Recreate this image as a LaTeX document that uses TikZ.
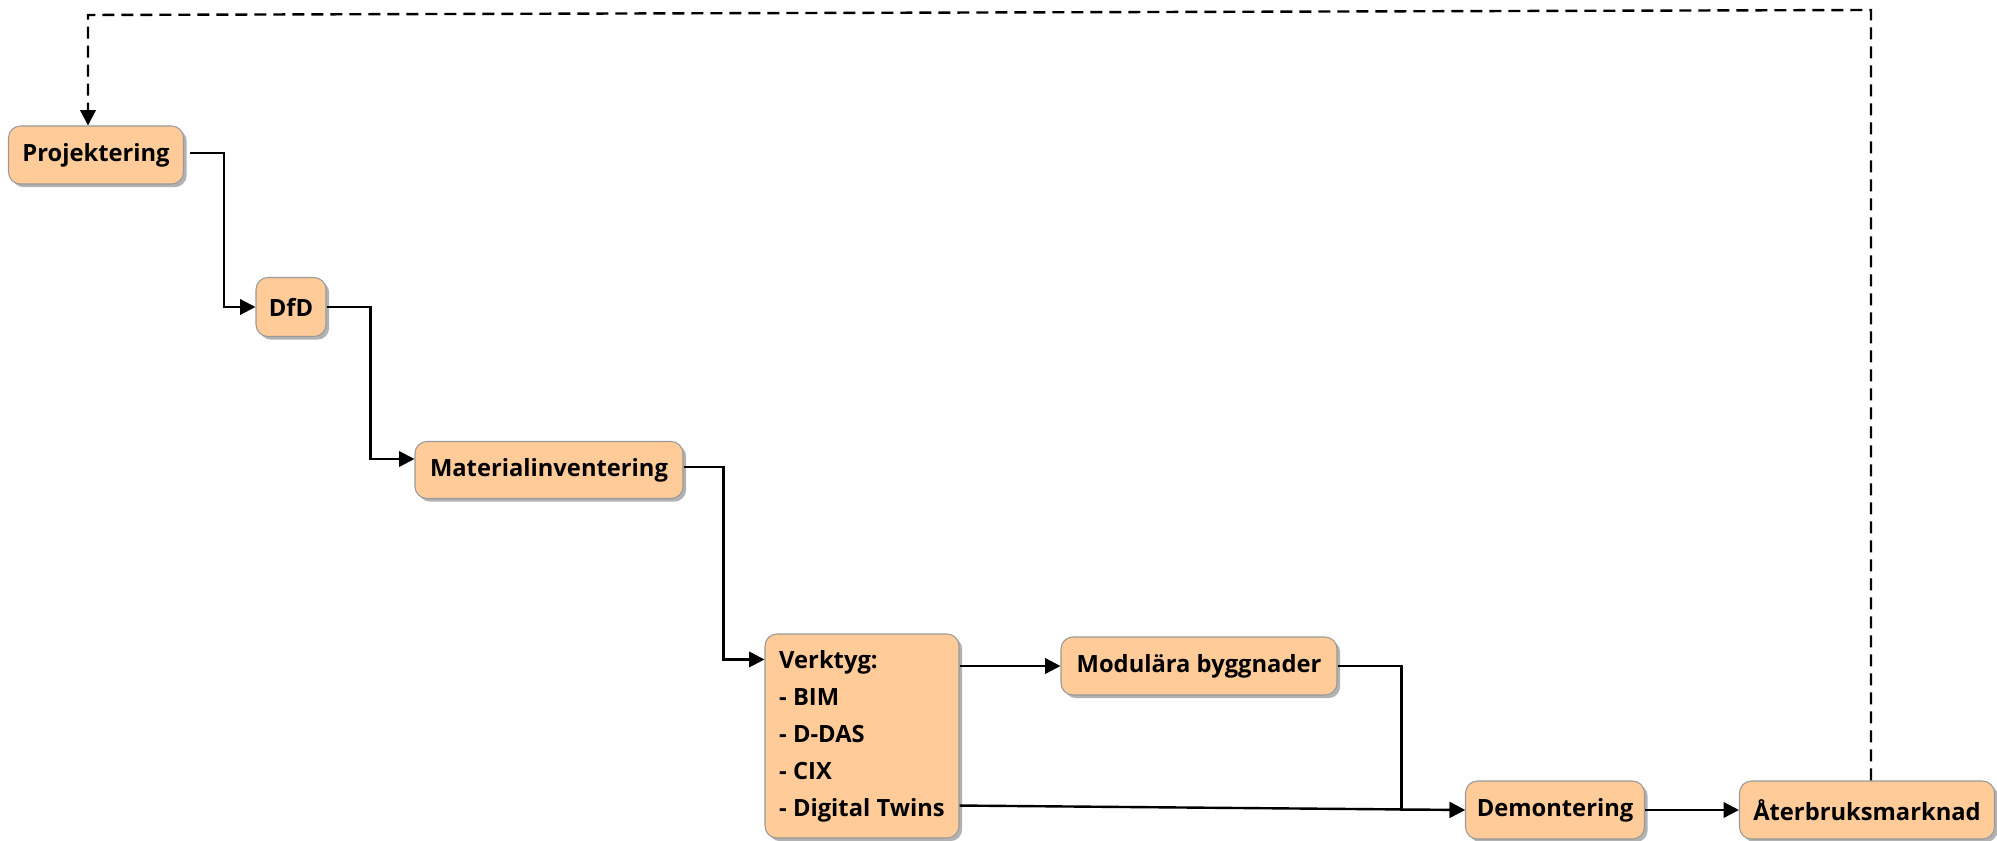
\documentclass[tikz,border=0pt]{standalone}
\usepackage{fontspec}
\setmainfont{Open Sans}
\usepackage{tikz}
\usetikzlibrary{calc, shadows, arrows.meta}

\definecolor{boxfill}{HTML}{FFCC99}
\definecolor{boxline}{HTML}{999999}

\begin{document}
\begin{tikzpicture}[x=0.75pt, y=0.75pt,
		box/.style = {draw=boxline, fill=boxfill, line width=0.8pt, rounded corners=9pt, inner sep=0pt,
			font=\bfseries\fontsize{17.8}{21}\selectfont,
			drop shadow={shadow xshift=2.4pt, shadow yshift=-2.4pt, fill=black, opacity=0.3}},
		flow/.style = {line width=1.8pt, -{Triangle[length=11.5pt, width=11.5pt]}},
		back/.style = {flow, dash pattern=on 9pt off 5.25pt}]
		
		%size of one pixel
		\def\px{0.75pt};
		
		\useasboundingbox (0,0) rectangle (1997,840);
		
		%boxes
		\node [box, minimum width=175*\px, minimum height=58*\px] (proj) at (96,685) {Projektering};
		\node [box, minimum width=70*\px, minimum height=59*\px] (dfd) at (291,533) {DfD};
		\node [box, minimum width=268*\px, minimum height=57*\px] (mat) at (549,370) {Materialinventering};
		\node [box, minimum width=194*\px, minimum height=204*\px, align=left,
			font=\bfseries\fontsize{17.8}{27.75}\selectfont] (verk) at (862,104)
			{Verktyg:\\- BIM\\- D-DAS\\- CIX\\- Digital Twins};
		\node [box, minimum width=276*\px, minimum height=58*\px] (mod) at (1199,174) {Modulära byggnader};
		\node [box, minimum width=179*\px, minimum height=58*\px] (dem) at (1555,30) {Demontering};
		\node [box, minimum width=255*\px, minimum height=58*\px] (ater) at (1867,30) {Återbruksmarknad};
		
		%corners of the way back
		\coordinate (c1) at (1871,830);
		\coordinate (c2) at (88,825);
		
		%process chain
		\draw [flow] ($ (proj.east) + (6,2) $) -- ++(34,0) |- (dfd.west);
		\draw [flow] (dfd.east) -- ++(44,0) |- ($ (mat.west) + (0,11) $);
		\draw [flow] ($ (mat.east) + (0,3) $) -- ++(40,0) |- ($ (verk.north west) + (0,-26) $);
		\draw [flow] (mod.west -| verk.east) -- (mod.west);
		\draw [flow] ($ (verk.south east) + (0,33) $) -- (dem.west);
		\draw [flow] (mod.east) -- ++(64,0) |- (dem.west);
		\draw [flow] (dem.east) -- (ater.west);
		
		%reuse goes back to design
		\draw [back] (ater.north -| c1) -- (c1) -- (c2) -- (c2 |- proj.north);
	\end{tikzpicture}
\end{document}
